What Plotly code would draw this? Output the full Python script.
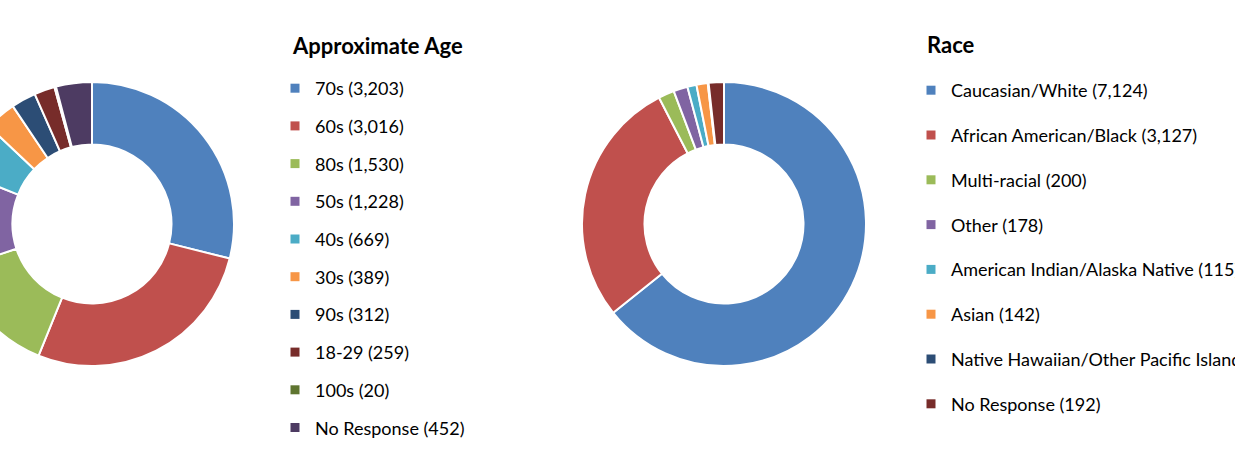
import plotly.graph_objects as go

####################### Data #######################
age_labels = ['70s', '60s', '80s', '50s', '40s', '30s', '90s', '18-29', '100s', 'No Response']
age_counts = [3203, 3016, 1530, 1228, 669, 389, 312, 259, 20, 452]
age_colors = ['#4F81BD', '#C0504D', '#9BBB59', '#8064A2', '#4BACC6',
              '#F79646', '#2C4D75', '#772C2A', '#5F7530', '#4D3B62']

race_labels = ['Caucasian/White', 'African American/Black', 'Multi-racial', 'Other',
               'American Indian/Alaska Native', 'Asian',
               'Native Hawaiian/Other Pacific Islander', 'No Response']
race_counts = [7124, 3127, 200, 178, 115, 142, 11, 192]
race_colors = ['#4F81BD', '#C0504D', '#9BBB59', '#8064A2', '#4BACC6',
               '#F79646', '#2C4D75', '#772C2A']

####################### Layout constants #######################
W, H = 1295, 475      # figure is wider than the window, shifted left to crop the first donut
SHIFT = 60
FONT = 'Lato'

fig = go.Figure()

fig.add_trace(go.Pie(
    labels=age_labels, values=age_counts, hole=0.56, sort=False,
    direction='clockwise', rotation=0, textinfo='none', showlegend=False,
    marker=dict(colors=age_colors, line=dict(color='white', width=2)),
    domain=dict(x=[10 / W, 294 / W], y=[1 - 366 / H, 1 - 82 / H]),
))

fig.add_trace(go.Pie(
    labels=race_labels, values=race_counts, hole=0.56, sort=False,
    direction='clockwise', rotation=0, textinfo='none', showlegend=False,
    marker=dict(colors=race_colors, line=dict(color='white', width=2)),
    domain=dict(x=[642 / W, 926 / W], y=[1 - 366 / H, 1 - 82 / H]),
))

# legend entries as square markers, one group each so the row gap can be set
for lab, cnt, col in zip(age_labels, age_counts, age_colors):
    fig.add_trace(go.Scatter(
        x=[None], y=[None], mode='markers', name=f'{lab} ({cnt:,})',
        marker=dict(symbol='square', size=9, color=col),
        legend='legend', legendgroup='a_' + lab,
    ))

for lab, cnt, col in zip(race_labels, race_counts, race_colors):
    fig.add_trace(go.Scatter(
        x=[None], y=[None], mode='markers', name=f'{lab} ({cnt:,})',
        marker=dict(symbol='square', size=9, color=col),
        legend='legend2', legendgroup='r_' + lab,
    ))

fig.update_layout(
    width=W, height=H,
    margin=dict(l=0, r=0, t=0, b=0, autoexpand=False),
    paper_bgcolor='white', plot_bgcolor='white',
    font=dict(family=FONT, size=18, color='black'),
    xaxis=dict(visible=False), yaxis=dict(visible=False),
    legend=dict(
        x=(275 + SHIFT) / W, y=1 - 70 / H, xanchor='left', yanchor='top',
        tracegroupgap=11.3, font=dict(size=18, color='black'),
    ),
    legend2=dict(
        x=(911 + SHIFT) / W, y=1 - 72 / H, xanchor='left', yanchor='top',
        tracegroupgap=18.4, font=dict(size=18, color='black'),
    ),
    annotations=[
        dict(text='<b>Approximate Age</b>', x=(290 + SHIFT) / W, y=1 - 46 / H,
             xref='paper', yref='paper', xanchor='left', yanchor='middle',
             showarrow=False, font=dict(size=22, color='black')),
        dict(text='<b>Race</b>', x=(925 + SHIFT) / W, y=1 - 45 / H,
             xref='paper', yref='paper', xanchor='left', yanchor='middle',
             showarrow=False, font=dict(size=22, color='black')),
    ],
)

fig.write_html(
    "out.html",
    config={'displayModeBar': False},
    post_script=(
        "document.body.style.margin='0';"
        "document.body.style.overflow='hidden';"
        "document.getElementById('{plot_id}').style.marginLeft='-%dpx';" % SHIFT
    ),
)
